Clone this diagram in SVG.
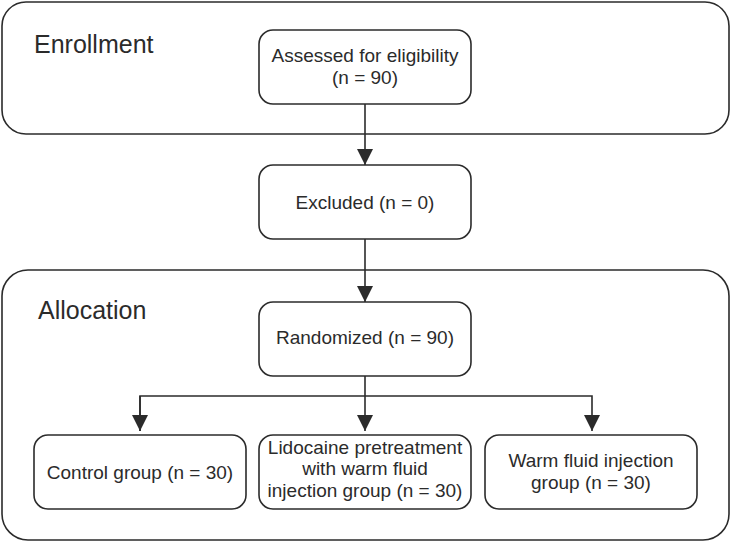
<svg xmlns="http://www.w3.org/2000/svg" width="731" height="543" viewBox="0 0 731 543">
<style>
.frame{fill:#fff;stroke:#2b2b2b;stroke-width:1.6}
.box{fill:#fff;stroke:#2b2b2b;stroke-width:1.6}
.t{font-family:"Liberation Sans",Arial,sans-serif;font-size:19px;fill:#2b2b2b;text-anchor:middle}
.lbl{font-family:"Liberation Sans",Arial,sans-serif;font-size:25px;fill:#2b2b2b}
.c{stroke:#2b2b2b;stroke-width:1.6;fill:none}
</style>
<defs>
<marker id="ah" markerUnits="userSpaceOnUse" markerWidth="16" markerHeight="16" viewBox="0 0 16 16" refX="16" refY="8" orient="auto">
<path d="M0,0 L16,8 L0,16 Z" fill="#2b2b2b"/>
</marker>
</defs>
<g id="enrollment">
<rect class="frame" x="2" y="2" width="727" height="132" rx="24"/>
<text class="lbl" x="34" y="53">Enrollment</text>
</g>
<g id="allocation">
<rect class="frame" x="2" y="270" width="727" height="270" rx="26"/>
<text class="lbl" x="38" y="319">Allocation</text>
</g>
<g id="connectors">
<line class="c" x1="365" y1="104" x2="365" y2="165" marker-end="url(#ah)"/>
<line class="c" x1="365" y1="239" x2="365" y2="302" marker-end="url(#ah)"/>
<line class="c" x1="365" y1="376" x2="365" y2="431" marker-end="url(#ah)"/>
<polyline class="c" points="140,431 140,396 592,396 592,431" marker-end="url(#ah)"/>
<line class="c" x1="140" y1="396" x2="140" y2="431" marker-end="url(#ah)"/>
</g>
<g id="assessed">
<rect class="box" x="259" y="30" width="212" height="74" rx="14"/>
<text class="t" x="365" y="62">Assessed for eligibility</text>
<text class="t" x="365" y="84">(n = 90)</text>
</g>
<g id="excluded">
<rect class="box" x="259" y="165" width="212" height="74" rx="14"/>
<text class="t" x="365" y="209">Excluded (n = 0)</text>
</g>
<g id="randomized">
<rect class="box" x="259" y="302" width="212" height="74" rx="14"/>
<text class="t" x="365" y="344">Randomized (n = 90)</text>
</g>
<g id="control">
<rect class="box" x="34" y="435" width="212" height="74" rx="14"/>
<text class="t" x="140" y="479">Control group (n = 30)</text>
</g>
<g id="lidocaine">
<rect class="box" x="259" y="435" width="212" height="74" rx="14"/>
<text class="t" x="365" y="454">Lidocaine pretreatment</text>
<text class="t" x="365" y="475">with warm fluid</text>
<text class="t" x="365" y="497">injection group (n = 30)</text>
</g>
<g id="warm">
<rect class="box" x="485" y="435" width="212" height="74" rx="14"/>
<text class="t" x="591" y="467">Warm fluid injection</text>
<text class="t" x="591" y="489">group (n = 30)</text>
</g>
</svg>
